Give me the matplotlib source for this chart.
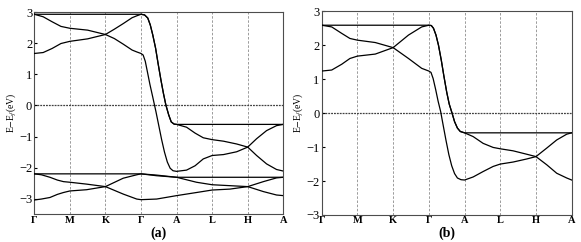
import matplotlib.pyplot as plt
import numpy as np

plt.rcParams['font.family'] = ['Liberation Serif', 'DejaVu Serif']
plt.rcParams['mathtext.fontset'] = 'stix'

kpoints = ['Γ', 'M', 'K', 'Γ', 'A', 'L', 'H', 'A']

# ---------- panel (a) ----------
# Γ-M-K-Γ part (x in units of path segments)
x_gmkg_a = [0, 0.25, 0.5, 0.75, 1, 1.5, 2, 2.25, 2.5, 2.75, 2.88, 3]
a_down = [2.93, 2.85, 2.69, 2.54, 2.48, 2.42, 2.28, 2.15, 1.97, 1.78, 1.72, 1.67]
a_up = [1.67, 1.70, 1.83, 1.99, 2.06, 2.14, 2.28, 2.45, 2.63, 2.82, 2.88, 2.93]
# Γ-A steep part (fraction along segment)
f_top_a = [0, 0.10, 0.19, 0.26, 0.33, 0.41, 0.48, 0.56, 0.63, 0.70, 0.78, 0.85, 0.93, 1.0]
a_top_steep = [2.93, 2.91, 2.81, 2.59, 2.27, 1.84, 1.35, 0.82, 0.39, 0.01, -0.31, -0.53, -0.60, -0.61]
f_low_a = [0, 0.06, 0.12, 0.18, 0.25, 0.33, 0.42, 0.50, 0.58, 0.66, 0.74, 0.82, 0.90, 1.0]
a_low_steep = [1.67, 1.62, 1.42, 1.08, 0.68, 0.27, -0.20, -0.65, -1.10, -1.50, -1.82, -2.02, -2.10, -2.12]
# A-L-H-A part
x_alha_a = [4, 4.28, 4.52, 4.75, 5, 5.32, 5.69, 6, 6.25, 6.53, 6.81, 7]
a_alha_down = [-0.61, -0.70, -0.89, -1.04, -1.10, -1.15, -1.24, -1.34, -1.61, -1.88, -2.06, -2.11]
a_alha_up = [-2.12, -2.08, -1.94, -1.72, -1.61, -1.58, -1.49, -1.34, -1.07, -0.81, -0.65, -0.61]
a_top_flat = 2.93
a_bot_flat = -0.61
# lower group
x_low_a = [0, 0.2, 0.44, 0.65, 0.82, 1, 1.47, 2, 2.5, 2.88, 3, 3.44, 4, 4.56, 5, 5.5, 6, 6.44, 6.81, 7]
a_l2 = [-2.20, -2.23, -2.31, -2.40, -2.45, -2.47, -2.53, -2.61, -2.85, -3.01, -3.03, -3.01, -2.90,
        -2.80, -2.72, -2.69, -2.61, -2.45, -2.33, -2.31]
a_l3 = [-3.04, -3.01, -2.96, -2.86, -2.80, -2.75, -2.71, -2.61, -2.34, -2.23, -2.20, -2.24, -2.31,
        -2.47, -2.55, -2.58, -2.61, -2.77, -2.88, -2.90]
x_l1_a = [0, 3, 3.44, 4, 7]
a_l1 = [-2.20, -2.20, -2.26, -2.31, -2.31]

# ---------- panel (b) ----------
x_gmkg_b = [0, 0.28, 0.56, 0.79, 1, 1.5, 2, 2.43, 2.8, 3]
b_down = [2.59, 2.54, 2.35, 2.20, 2.15, 2.08, 1.93, 1.61, 1.32, 1.24]
b_up = [1.24, 1.27, 1.44, 1.61, 1.68, 1.74, 1.93, 2.30, 2.54, 2.59]
f_top_b = [0, 0.07, 0.13, 0.20, 0.27, 0.35, 0.42, 0.50, 0.57, 0.65, 0.72, 0.80, 0.88, 1.0]
b_top_steep = [2.59, 2.58, 2.50, 2.30, 2.00, 1.55, 1.10, 0.62, 0.27, 0.0, -0.25, -0.44, -0.54, -0.58]
f_low_b = [0, 0.06, 0.12, 0.19, 0.26, 0.33, 0.40, 0.48, 0.56, 0.64, 0.72, 0.80, 0.90, 1.0]
b_low_steep = [1.24, 1.20, 1.02, 0.70, 0.35, 0.05, -0.35, -0.80, -1.22, -1.55, -1.78, -1.91, -1.96, -1.97]
x_alha_b = [4, 4.24, 4.52, 4.80, 5, 5.36, 5.74, 6, 6.30, 6.58, 6.86, 7]
b_alha_down = [-0.58, -0.69, -0.89, -1.01, -1.05, -1.11, -1.21, -1.28, -1.52, -1.77, -1.91, -1.97]
b_alha_up = [-1.97, -1.88, -1.72, -1.57, -1.50, -1.44, -1.35, -1.28, -1.03, -0.79, -0.62, -0.58]
b_top_flat = 2.59
b_bot_flat = -0.58


def join(*parts):
    xs, ys = [], []
    for px, py in parts:
        xs += list(px)
        ys += list(py)
    return xs, ys


def draw_panel(ax, d, lowers):
    steep_top_x = [3 + f for f in d['f_top']]
    steep_low_x = [3 + f for f in d['f_low']]
    bands = [
        join(([0, 3], [d['flat'], d['flat']]), (steep_top_x, d['top_steep']),
             ([4, 7], [d['bflat'], d['bflat']])),
        join((d['xg'], d['down']), (steep_low_x, d['low_steep']), (d['xa'], d['alha_up'])),
        join((d['xg'], d['up']), (steep_top_x, d['top_steep']), (d['xa'], d['alha_down'])),
    ] + lowers
    for i in range(len(kpoints)):
        ax.axvline(i, color='0.55', lw=0.6, ls=(0, (3, 2)), zorder=1)
    ax.axhline(0, color='0.25', lw=0.9, ls=(0, (1.5, 0.8)), zorder=1)
    for bx, by in bands:
        ax.plot(bx, by, color='black', lw=0.9, zorder=3)
    ax.set_xlim(0, 7)
    ax.set_xticks(range(len(kpoints)))
    ax.set_xticklabels(kpoints, fontweight='bold', fontsize=7.5)
    ax.tick_params(axis='x', length=0, pad=1)
    ax.tick_params(axis='y', length=2, direction='in', labelsize=9, pad=1.5)
    ax.set_ylabel(r'E$-$E$_f$(eV)', fontsize=7, labelpad=1)
    for s in ax.spines.values():
        s.set_color('0.3')
        s.set_linewidth(0.8)


fig = plt.figure(figsize=(5.81, 2.42), dpi=100)
ax1 = fig.add_axes([0.059, 0.1145, 0.4286, 0.8355])
ax2 = fig.add_axes([0.5537, 0.1116, 0.4303, 0.8417])

da = dict(f_top=f_top_a, f_low=f_low_a, top_steep=a_top_steep, low_steep=a_low_steep,
          flat=a_top_flat, bflat=a_bot_flat, xg=x_gmkg_a, down=a_down, up=a_up,
          xa=x_alha_a, alha_up=a_alha_up, alha_down=a_alha_down)
db = dict(f_top=f_top_b, f_low=f_low_b, top_steep=b_top_steep, low_steep=b_low_steep,
          flat=b_top_flat, bflat=b_bot_flat, xg=x_gmkg_b, down=b_down, up=b_up,
          xa=x_alha_b, alha_up=b_alha_up, alha_down=b_alha_down)

draw_panel(ax1, da, [(x_l1_a, a_l1), (x_low_a, a_l2), (x_low_a, a_l3)])
ax1.set_ylim(-3.5, 3)
ax1.set_yticks([-3, -2, -1, 0, 1, 2, 3])

draw_panel(ax2, db, [])
ax2.set_ylim(-3, 3)
ax2.set_yticks([-3, -2, -1, 0, 1, 2, 3])

fig.text(0.059 + 0.4286 / 2, 0.035, '(a)', ha='center', va='center', fontsize=10, fontweight='bold')
fig.text(0.5537 + 0.4303 / 2, 0.035, '(b)', ha='center', va='center', fontsize=10, fontweight='bold')

fig.savefig('out.png', dpi=100)
